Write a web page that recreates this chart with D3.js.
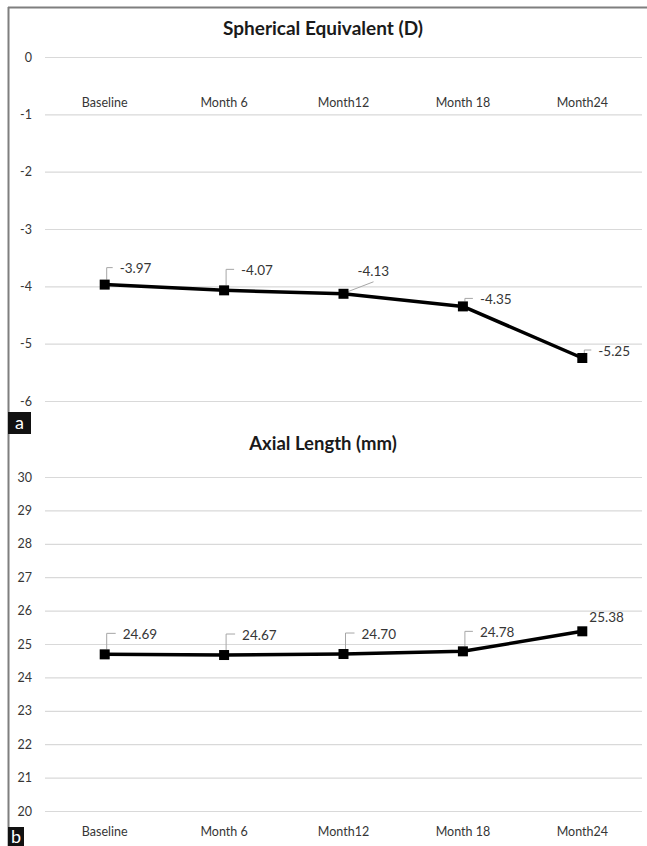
<!DOCTYPE html>
<html>
<head>
<meta charset="utf-8">
<script src="https://cdn.jsdelivr.net/npm/d3@7"></script>
<style>
  html, body { margin: 0; padding: 0; background: #fff; }
  svg { display: block; }
  text { font-family: Lato, "Open Sans", sans-serif; }
</style>
</head>
<body>
<svg id="chart" width="647" height="846"></svg>
<script>
// ---- data ----
const categories = ["Baseline", "Month 6", "Month12", "Month 18", "Month24"];
const sphericalEquivalent = [-3.97, -4.07, -4.13, -4.35, -5.25];
const axialLength = [24.69, 24.67, 24.70, 24.78, 25.38];
const seTicks = [0, -1, -2, -3, -4, -5, -6];
const alTicks = [30, 29, 28, 27, 26, 25, 24, 23, 22, 21, 20];
const seLabels = ["-3.97", "-4.07", "-4.13", "-4.35", "-5.25"];
const alLabels = ["24.69", "24.67", "24.70", "24.78", "25.38"];

// ---- layout (label placement, leader style) ----
const seLabelPos = [
  {dx: 15, dy: -16, leader: "bracket"},
  {dx: 17, dy: -20, leader: "bracket"},
  {dx: 14, dy: -23, leader: "diag"},
  {dx: 17, dy: -7,  leader: "bracket"},
  {dx: 16, dy: -7,  leader: "bracket"}
];
const alLabelPos = [
  {dx: 18, dy: -20, leader: "bracket"},
  {dx: 18, dy: -20, leader: "bracket"},
  {dx: 18, dy: -20, leader: "bracket"},
  {dx: 17, dy: -19, leader: "bracket"},
  {dx: 7,  dy: -14, leader: "none"}
];

const svg = d3.select("#chart");
const textColor = "#363636";
const gridColor = "#d9d9d9";
const leaderColor = "#a6a6a6";

// frame
svg.append("line").attr("x1", 8).attr("x2", 647).attr("y1", 7.5).attr("y2", 7.5)
  .attr("stroke", "#7f7f7f").attr("stroke-width", 2);
svg.append("line").attr("x1", 8.5).attr("x2", 8.5).attr("y1", 7).attr("y2", 846)
  .attr("stroke", "#7f7f7f").attr("stroke-width", 2);

const x = d3.scaleBand().domain(categories).range([45, 642]);

function drawPanel(opts) {
  const g = svg.append("g");
  const y = d3.scaleLinear().domain(opts.domain).range(opts.range);

  // title
  g.append("text").attr("x", 323).attr("y", opts.titleY)
    .attr("text-anchor", "middle").attr("font-weight", "bold")
    .attr("font-size", opts.titleSize).attr("fill", "#1a1a1a").text(opts.title);

  // gridlines + y tick labels via axis
  const yAxis = d3.axisLeft(y).tickValues(opts.ticks)
    .tickSize(-(x.range()[1] - x.range()[0])).tickPadding(13)
    .tickFormat(d => d3.format("")(d).replace("−", "-"));
  const ya = g.append("g").attr("transform", `translate(${x.range()[0]},0)`).call(yAxis);
  ya.select(".domain").remove();
  ya.selectAll(".tick line").attr("stroke", gridColor).attr("stroke-width", 1.2);
  ya.selectAll(".tick text").attr("fill", textColor).attr("font-size", 12.5)
    .attr("font-family", "Lato, sans-serif");

  // x category labels
  const xAxis = d3.axisBottom(x).tickSize(0).tickPadding(0);
  const xa = g.append("g").attr("transform", `translate(0,${opts.xLabelY})`).call(xAxis);
  xa.select(".domain").remove();
  xa.selectAll(".tick text").attr("fill", textColor).attr("font-size", 12.5)
    .attr("font-family", "Lato, sans-serif").attr("dy", "0.32em");

  const cx = d => x(d) + x.bandwidth() / 2;
  const pts = categories.map((c, i) => ({c, v: opts.values[i], lab: opts.labels[i], pos: opts.labelPos[i]}));

  // leaders
  pts.forEach(p => {
    const mx = cx(p.c), my = y(p.v);
    const lx = mx + p.pos.dx, ly = my + p.pos.dy;
    if (p.pos.leader === "bracket") {
      g.append("path")
        .attr("d", `M${mx + 2},${my - 5} L${mx + 2},${ly - 1} L${lx - 7},${ly - 1}`)
        .attr("fill", "none").attr("stroke", leaderColor).attr("stroke-width", 1);
    } else if (p.pos.leader === "diag") {
      g.append("path")
        .attr("d", `M${mx + 4},${my - 2} L${lx + 16},${ly + 11}`)
        .attr("fill", "none").attr("stroke", leaderColor).attr("stroke-width", 1);
    }
  });

  // line
  const line = d3.line().x(d => cx(d.c)).y(d => y(d.v));
  g.append("path").datum(pts).attr("d", line)
    .attr("fill", "none").attr("stroke", "#000").attr("stroke-width", 3.5)
    .attr("stroke-linejoin", "round");

  // markers
  g.selectAll(".m").data(pts).enter().append("rect")
    .attr("x", d => cx(d.c) - 5).attr("y", d => y(d.v) - 5)
    .attr("width", 10).attr("height", 10).attr("fill", "#000");

  // data labels
  g.selectAll(".lab").data(pts).enter().append("text")
    .attr("x", d => cx(d.c) + d.pos.dx).attr("y", d => y(d.v) + d.pos.dy)
    .attr("dy", "0.35em").attr("font-size", 13.5).attr("fill", textColor)
    .text(d => d.lab);

  // panel letter
  g.append("rect").attr("x", 8).attr("y", opts.letterY).attr("width", opts.letterW)
    .attr("height", opts.letterH).attr("fill", "#111");
  g.append("text").attr("x", 8 + opts.letterW / 2).attr("y", opts.letterY + opts.letterH / 2)
    .attr("dy", "0.36em").attr("text-anchor", "middle").attr("fill", "#fff")
    .attr("font-size", 18).attr("font-family", "Liberation Sans, Arial, sans-serif")
    .text(opts.letter);
}

drawPanel({
  title: "Spherical Equivalent (D)", titleY: 35, titleSize: 19,
  domain: [0, -6], range: [57, 401], ticks: seTicks,
  xLabelY: 103, values: sphericalEquivalent, labels: seLabels, labelPos: seLabelPos,
  letter: "a", letterY: 412, letterW: 23, letterH: 22
});

drawPanel({
  title: "Axial Length (mm)", titleY: 450, titleSize: 18.5,
  domain: [20, 30], range: [811, 477], ticks: alTicks,
  xLabelY: 832, values: axialLength, labels: alLabels, labelPos: alLabelPos,
  letter: "b", letterY: 827, letterW: 16, letterH: 19
});
</script>
</body>
</html>
